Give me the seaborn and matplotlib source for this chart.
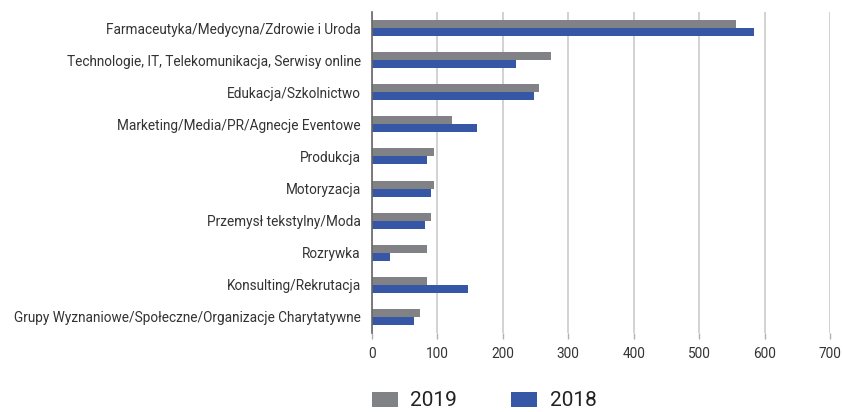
import matplotlib
matplotlib.use("Agg")
import matplotlib.pyplot as plt
import seaborn as sns
import pandas as pd
from matplotlib.patches import Patch

categories = [
    "Farmaceutyka/Medycyna/Zdrowie i Uroda",
    "Technologie, IT, Telekomunikacja, Serwisy online",
    "Edukacja/Szkolnictwo",
    "Marketing/Media/PR/Agnecje Eventowe",
    "Produkcja",
    "Motoryzacja",
    "Przemysł tekstylny/Moda",
    "Rozrywka",
    "Konsulting/Rekrutacja",
    "Grupy Wyznaniowe/Społeczne/Organizacje Charytatywne",
]
values_2019 = [556, 274, 255, 122, 95, 95, 90, 84, 84, 73]
values_2018 = [584, 220, 248, 160, 84, 90, 81, 27, 147, 64]
series = ["2019", "2018"]
xticks = [0, 100, 200, 300, 400, 500, 600, 700]

df = pd.DataFrame({
    "category": categories * 2,
    "value": values_2019 + values_2018,
    "year": [series[0]] * len(categories) + [series[1]] * len(categories),
})

sns.set_style("white")
plt.rcParams["font.family"] = ["Roboto", "DejaVu Sans"]

fig = plt.figure(figsize=(8.43, 4.12), dpi=100)
ax = fig.add_axes([372 / 843, 1 - 333 / 412, (830 - 372) / 843, (333 - 12) / 412])

palette = {"2019": "#818285", "2018": "#3557a5"}
sns.barplot(data=df, y="category", x="value", hue="year", hue_order=series,
            order=categories, palette=palette, orient="h", width=0.5,
            saturation=1, linewidth=0, ax=ax, legend=False)

ax.set_xlim(0, 700)
ax.set_ylim(len(categories) - 0.5, -0.5)
ax.set_xticks(xticks)
ax.set_xticklabels([str(t) for t in xticks], fontsize=9.8, color="#333333")
ax.set_xlabel("")
ax.set_ylabel("")
ax.tick_params(axis="y", length=0, pad=8, labelsize=9.8, labelcolor="#333333")
ax.tick_params(axis="x", length=4, width=1, color="#b0b0b0", pad=6, bottom=True)
ax.xaxis.grid(True, color="#cfcfcf", linewidth=1.3)
ax.set_axisbelow(True)
for s in ["top", "right", "bottom"]:
    ax.spines[s].set_visible(False)
ax.spines["left"].set_color("#666666")
ax.spines["left"].set_linewidth(1.2)
ax.spines["left"].set_zorder(5)

handles = [Patch(facecolor=palette[s], edgecolor="none", label=s) for s in series]
fig.legend(handles=handles, loc="center", bbox_to_anchor=(484 / 843, 1 - 401 / 412),
           ncol=2, frameon=False, fontsize=15, handlelength=1.25, handleheight=0.7,
           columnspacing=2.6, handletextpad=0.6, labelcolor="#222222")

fig.savefig("out.png", dpi=100)
